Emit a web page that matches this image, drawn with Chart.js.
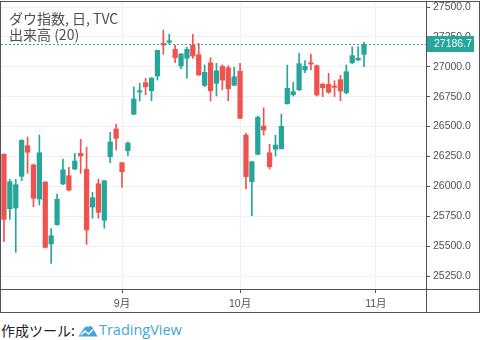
<!DOCTYPE html>
<html>
<head>
<meta charset="utf-8">
<script src="https://cdn.jsdelivr.net/npm/chart.js@4.4.0/dist/chart.umd.min.js"></script>
<style>
  html, body { margin: 0; padding: 0; background: #ffffff; width: 480px; height: 340px; overflow: hidden; position: relative; }
  #frame { position: absolute; left: 0; top: 1px; width: 480px; height: 312px; box-sizing: border-box; border: 1px solid #50535e; }
  #c { display: block; }
  #title { position: absolute; left: 9px; top: 10px; font: 14px/16px "Noto Sans CJK JP", sans-serif; color: #4f4f4f; white-space: nowrap; }
  #footer { position: absolute; left: 1px; top: 321px; font: 14px/18px "Noto Sans CJK JP", sans-serif; color: #222; white-space: nowrap; display: flex; align-items: center; }
  #footer .tv { color: #3fa6dc; font-family: "Open Sans", sans-serif; font-size: 14.5px; margin-left: 1px; }
  #footer svg { margin-left: 3px; }
</style>
</head>
<body>
<div id="frame"><canvas id="c" width="478" height="310"></canvas></div>
<div id="title">ダウ指数, 日, TVC<br>出来高 (20)</div>
<div id="footer"><span>作成ツール:</span><svg width="20" height="13" viewBox="0 0 20 13"><path d="M0.5 12.5 L5 5.5 Q7.5 1.5 10.5 3 Q12 1 14.5 3.5 L19.5 12.5 Z" fill="#3fa6dc"/><polyline points="3,11 7,7 10.5,10 15,5.5" fill="none" stroke="#fff" stroke-width="1.6"/></svg><span class="tv">TradingView</span></div>
<script>
// ---- data ----
const categories = [
  '2019-08-05','2019-08-06','2019-08-07','2019-08-08','2019-08-09','2019-08-12','2019-08-13','2019-08-14','2019-08-15','2019-08-16',
  '2019-08-19','2019-08-20','2019-08-21','2019-08-22','2019-08-23','2019-08-26','2019-08-27','2019-08-28','2019-08-29','2019-08-30',
  '2019-09-03','2019-09-04','2019-09-05','2019-09-06','2019-09-09','2019-09-10','2019-09-11','2019-09-12','2019-09-13','2019-09-16',
  '2019-09-17','2019-09-18','2019-09-19','2019-09-20','2019-09-23','2019-09-24','2019-09-25','2019-09-26','2019-09-27','2019-09-30',
  '2019-10-01','2019-10-02','2019-10-03','2019-10-04','2019-10-07','2019-10-08','2019-10-09','2019-10-10','2019-10-11','2019-10-14',
  '2019-10-15','2019-10-16','2019-10-17','2019-10-18','2019-10-21','2019-10-22','2019-10-23','2019-10-24','2019-10-25','2019-10-28',
  '2019-10-29','2019-10-30',
  '2019-10-31','2019-11-01','2019-11-04','2019-11-05','2019-11-06','2019-11-07','2019-11-08','2019-11-11','2019-11-12','2019-11-13'
];
const opens = [
  26268,25813,25819,26084,26340,26179,25894,26036,25518,25679,
  26020,26089,26145,26276,26142,25827,26022,25716,26248,26480,
  26198,26298,26603,26789,26867,26800,26923,27196,27205,27146,
  27007,27071,27180,27101,26845,27034,26862,27004,26992,26845,
  26962,26429,26039,26268,26505,26281,26310,26315,26691,26767,
  26808,26973,27034,27009,26856,26853,26839,26892,26783,27034,
  27057,27104
];
const highs = [
  26272,26059,26059,26390,26413,26187,26429,26040,25646,25936,
  26229,26159,26276,26393,26327,25950,26061,26050,26452,26519,
  26202,26373,26833,26862,26904,26909,27140,27308,27274,27180,
  27110,27163,27272,27196,27015,27076,27029,27017,27009,26996,
  27030,26444,26210,26588,26658,26352,26429,26605,27015,26870,
  27113,27051,27107,27015,26860,26945,26884,26929,27015,27168,
  27168,27205
];
const lows = [
  25537,25724,25448,26047,26109,25830,25844,25485,25356,25675,
  26015,25961,26140,26109,25515,25733,25733,25649,26198,26304,
  25992,26254,26600,26714,26766,26716,26889,27104,27191,27034,
  26984,26904,27071,26930,26833,26714,26756,26806,26716,26843,
  26566,25980,25754,26265,26429,26145,26254,26312,26688,26755,
  26800,26950,26973,26755,26750,26778,26750,26716,26775,27025,
  27051,27001
];
const closes = [
  25724,26039,26014,26385,26285,25900,26281,25490,25587,25892,
  26139,25969,26212,26254,25635,25905,25783,26047,26371,26402,
  26122,26362,26731,26800,26833,26906,27138,27182,27218,27076,
  27107,27146,27090,26931,26954,26800,26967,26889,26817,26917,
  26569,26081,26206,26577,26471,26164,26346,26502,26820,26792,
  27026,27004,27023,26764,26825,26787,26828,26797,26959,27093,
  27071,27186.7
];
const yTickValues = [25250, 25500, 25750, 26000, 26250, 26500, 26750, 27000, 27250, 27500];
const xTickDates = ['2019-09-03', '2019-10-01', '2019-11-01'];
const xTickLabels = ['9月', '10月', '11月'];

// ---- styling ----
const UP = '#26a69a', DOWN = '#ef5350';
const AXIS = '#50535e', GRID = '#eef0f4', TEXT = '#4e5059';
const candleColors = opens.map((o, i) => closes[i] >= o ? UP : DOWN);

const overlay = {
  id: 'overlay',
  afterDraw(chart) {
    const { ctx, chartArea: a, scales: { y } } = chart;
    const W = chart.width, H = chart.height;
    const last = closes[closes.length - 1];
    const py = Math.round(y.getPixelForValue(last)) + 0.5;
    ctx.save();
    ctx.lineWidth = 1;
    ctx.strokeStyle = UP;
    ctx.setLineDash([2, 2]);
    ctx.beginPath(); ctx.moveTo(a.left, py); ctx.lineTo(a.right, py); ctx.stroke();
    ctx.setLineDash([]);
    ctx.strokeStyle = AXIS;
    ctx.beginPath();
    ctx.moveTo(a.right + 0.5, 0); ctx.lineTo(a.right + 0.5, H);
    ctx.moveTo(0, a.bottom + 0.5); ctx.lineTo(W, a.bottom + 0.5);
    ctx.stroke();
    ctx.fillStyle = UP;
    ctx.fillRect(a.right + 1, py - 8.5, 47, 16);
    ctx.fillStyle = '#ffffff';
    ctx.font = '10.5px "Liberation Sans", Arial, sans-serif';
    ctx.textAlign = 'left'; ctx.textBaseline = 'middle';
    ctx.fillText(last.toFixed(1), a.right + 8, py);
    ctx.restore();
  }
};

Chart.defaults.font.family = '"Liberation Sans", Arial, "Noto Sans CJK JP", sans-serif';
Chart.defaults.font.size = 10.5;
Chart.defaults.color = TEXT;

new Chart(document.getElementById('c'), {
  type: 'bar',
  data: {
    labels: categories,
    datasets: [
      {
        label: 'wick',
        data: highs.map((h, i) => [lows[i], h]),
        backgroundColor: candleColors,
        barThickness: 1,
        grouped: false,
        order: 2
      },
      {
        label: 'body',
        data: opens.map((o, i) => [o, closes[i]]),
        backgroundColor: candleColors,
        barThickness: 4.6,
        minBarLength: 1,
        grouped: false,
        order: 1
      }
    ]
  },
  options: {
    responsive: false,
    devicePixelRatio: 1,
    animation: false,
    layout: { padding: 0 },
    plugins: { legend: { display: false }, tooltip: { enabled: false } },
    scales: {
      x: {
        type: 'category',
        offset: true,
        border: { display: false },
        grid: { offset: false, color: GRID, tickColor: AXIS, tickLength: 4, drawOnChartArea: true },
        ticks: {
          autoSkip: false, maxRotation: 0, padding: 5,
          callback: (v, i) => xTickLabels[i]
        },
        afterBuildTicks: s => { s.ticks = xTickDates.map(d => ({ value: categories.indexOf(d) })); },
        afterFit: s => { s.height = 23; s.paddingLeft = 0; s.paddingRight = 0; }
      },
      y: {
        position: 'right',
        min: 25141.5,
        max: 27542,
        border: { display: false },
        grid: { color: GRID, tickColor: AXIS, tickLength: 4 },
        ticks: { padding: 3, callback: v => Number(v).toFixed(1) },
        afterBuildTicks: s => { s.ticks = yTickValues.map(v => ({ value: v })); },
        afterFit: s => { s.width = 53; s.paddingTop = 0; s.paddingBottom = 0; }
      }
    }
  },
  plugins: [overlay]
});
</script>
</body>
</html>
